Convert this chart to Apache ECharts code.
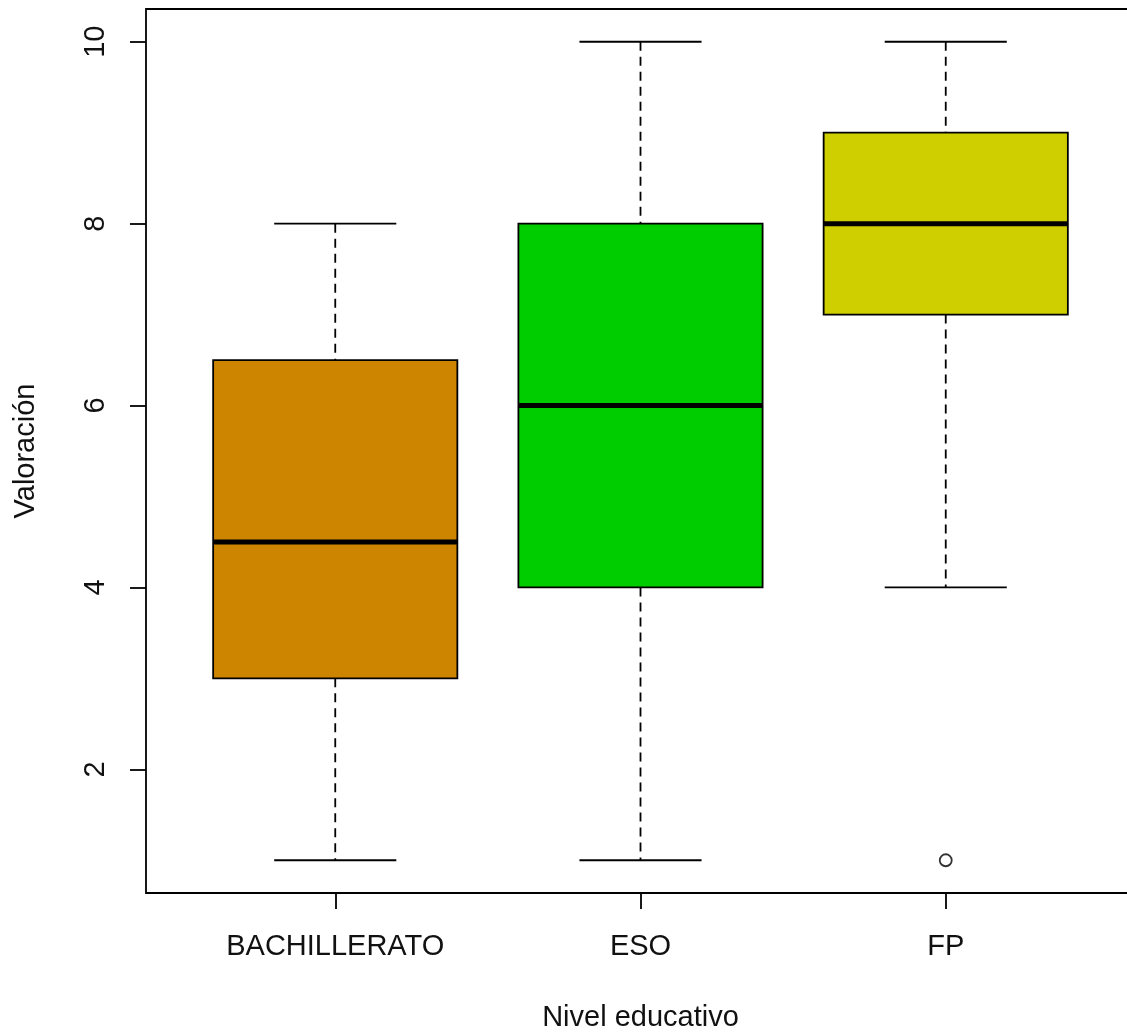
<!DOCTYPE html>
<html>
<head>
<meta charset="utf-8">
<script src="https://cdn.jsdelivr.net/npm/echarts@6/dist/echarts.min.js"></script>
<style>html,body{margin:0;padding:0;background:#fff;}#c{width:1127px;height:1032px;}</style>
</head>
<body>
<div id="c"></div>
<script>
// Data
const categories = ['BACHILLERATO', 'ESO', 'FP'];
const whiskerLow = [1, 1, 4];
const q1 = [3, 4, 7];
const medians = [4.5, 6, 8];
const q3 = [6.5, 8, 9];
const whiskerHigh = [8, 10, 10];
const outliers = [[3, 1]]; // [category position, value]
const yTicks = [2, 4, 6, 8, 10];
const boxColors = ['#CD8500', '#00CD00', '#CFCF00'];

const boxData = categories.map((c, i) => [i + 1, whiskerLow[i], q1[i], medians[i], q3[i], whiskerHigh[i]]);

const chart = echarts.init(document.getElementById('c'), null, {renderer: 'canvas'});
const FONT = 'Liberation Sans, Arial, sans-serif';

function renderItem(params, api) {
  const x = api.value(0);
  const lo = api.value(1), a = api.value(2), m = api.value(3), b = api.value(4), hi = api.value(5);
  const idx = params.dataIndex;
  const halfBox = 0.4, halfCap = 0.2;
  const pLoC = api.coord([x, lo]), pHiC = api.coord([x, hi]);
  const pA = api.coord([x, a]), pB = api.coord([x, b]);
  const pM = api.coord([x, m]);
  const xl = api.coord([x - halfBox, m])[0], xr = api.coord([x + halfBox, m])[0];
  const cl = api.coord([x - halfCap, m])[0], cr = api.coord([x + halfCap, m])[0];
  const lineStyle = {stroke: '#000', lineWidth: 1.8};
  const dashStyle = {stroke: '#000', lineWidth: 1.8, lineDash: [9, 6]};
  return {
    type: 'group',
    children: [
      {type: 'line', shape: {x1: pHiC[0], y1: pHiC[1], x2: pB[0], y2: pB[1]}, style: dashStyle},
      {type: 'line', shape: {x1: pA[0], y1: pA[1], x2: pLoC[0], y2: pLoC[1]}, style: dashStyle},
      {type: 'line', shape: {x1: cl, y1: pHiC[1], x2: cr, y2: pHiC[1]}, style: lineStyle},
      {type: 'line', shape: {x1: cl, y1: pLoC[1], x2: cr, y2: pLoC[1]}, style: lineStyle},
      {type: 'rect', shape: {x: xl, y: pB[1], width: xr - xl, height: pA[1] - pB[1]},
        style: {fill: boxColors[idx], stroke: '#000', lineWidth: 1.8}},
      {type: 'line', shape: {x1: xl, y1: pM[1], x2: xr, y2: pM[1]}, style: {stroke: '#000', lineWidth: 5}}
    ]
  };
}

chart.setOption({
  animation: false,
  backgroundColor: '#fff',
  grid: {left: 146, right: -8, top: 9, bottom: 139, containLabel: false, outerBoundsMode: 'none',
    show: true, borderColor: '#000', borderWidth: 1.8, backgroundColor: 'transparent'},
  xAxis: {
    type: 'value', min: 0.38, max: 3.62,
    name: 'Nivel educativo', nameLocation: 'middle', nameGap: 110,
    nameTextStyle: {fontFamily: FONT, fontSize: 29, color: '#111'},
    axisLine: {show: false},
    axisTick: {show: true, length: 16, lineStyle: {color: '#000', width: 1.8}, customValues: [1, 2, 3]},
    axisLabel: {show: true, customValues: [1, 2, 3], margin: 39, fontFamily: FONT, fontSize: 29, color: '#111',
      formatter: v => categories[Math.round(v) - 1] || ''},
    splitLine: {show: false}
  },
  yAxis: {
    type: 'value', min: 0.64, max: 10.36,
    name: 'Valoración', nameLocation: 'middle', nameGap: 106, nameRotate: 90,
    nameTextStyle: {fontFamily: FONT, fontSize: 29, color: '#111'},
    axisLine: {show: false},
    axisTick: {show: true, length: 16, lineStyle: {color: '#000', width: 1.8}, customValues: yTicks},
    axisLabel: {show: true, customValues: yTicks, rotate: 90, margin: 36, fontFamily: FONT, fontSize: 29, color: '#111'},
    splitLine: {show: false}
  },
  series: [
    {type: 'custom', renderItem: renderItem, data: boxData, encode: {x: 0, y: [1, 2, 3, 4, 5]}, clip: false},
    {type: 'scatter', data: outliers, symbol: 'circle', symbolSize: 12,
      itemStyle: {color: '#fff', borderColor: '#000', borderWidth: 1.8}}
  ]
});
</script>
</body>
</html>
